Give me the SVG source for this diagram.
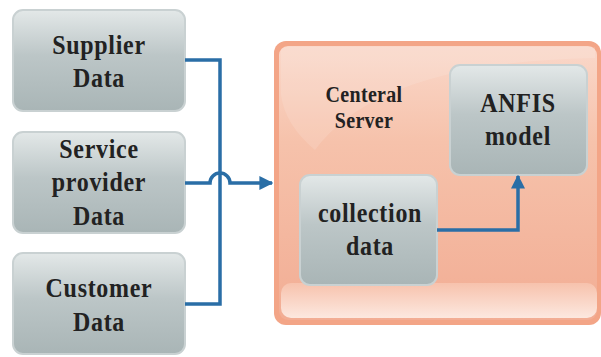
<svg xmlns="http://www.w3.org/2000/svg" width="601" height="357" viewBox="0 0 601 357">
  <defs>
    <linearGradient id="grayFill" x1="0" y1="0" x2="0" y2="1">
      <stop offset="0" stop-color="#e3e8e8"/>
      <stop offset="0.45" stop-color="#bcc6c7"/>
      <stop offset="1" stop-color="#a9b5b6"/>
    </linearGradient>
    <linearGradient id="serverFill" x1="0" y1="0" x2="0" y2="1">
      <stop offset="0" stop-color="#fad8ca"/>
      <stop offset="0.35" stop-color="#f6c2ab"/>
      <stop offset="1" stop-color="#f2ad94"/>
    </linearGradient>
    <linearGradient id="bandFill" x1="0" y1="0" x2="0" y2="1">
      <stop offset="0" stop-color="#f7c3ae"/>
      <stop offset="1" stop-color="#fdebe3"/>
    </linearGradient>
    <marker id="arrow" viewBox="0 0 10 10" refX="9" refY="5" markerWidth="4" markerHeight="4.2" orient="auto" markerUnits="strokeWidth">
      <path d="M0,0 L10,5 L0,10 z" fill="#2a6ea6"/>
    </marker>
  </defs>
  <style>
    .box { fill: url(#grayFill); stroke: #c9d1d2; stroke-width: 2; }
    .label { font-family: "Liberation Serif", "Times New Roman", serif; font-weight: bold; fill: #222222; text-anchor: middle; }
    .big { font-size: 24px; letter-spacing: 0.7px; }
    .small { font-size: 20px; letter-spacing: 0.3px; }
    .wire { fill: none; stroke: #2a6ea6; stroke-width: 3.5; }
  </style>

  <rect width="601" height="357" fill="#ffffff"/>

  <!-- central server container -->
  <g id="central-server">
    <rect x="274" y="41" width="327" height="284" rx="12" fill="#f3a587"/>
    <rect x="279" y="46" width="318" height="274" rx="9" fill="url(#serverFill)"/>
    <!-- soft gloss at the upper left -->
    <path d="M281,50 Q281,47 290,47 H595 V58 Q380,62 315,150 Q285,125 281,95 Z" fill="#ffffff" opacity="0.12"/>
    <rect x="281" y="283" width="316" height="35" rx="10" fill="url(#bandFill)" opacity="0.95"/>
    <text class="label small" transform="translate(364,102) scale(1,1.12)">Centeral</text>
    <text class="label small" transform="translate(364,128) scale(1,1.12)">Server</text>
  </g>

  <g id="supplier-data">
    <rect class="box" x="13" y="10" width="172" height="101" rx="10"/>
    <text class="label big" transform="translate(99,54) scale(1,1.18)">Supplier</text>
    <text class="label big" transform="translate(99,87) scale(1,1.18)">Data</text>
  </g>

  <g id="service-provider-data">
    <rect class="box" x="13" y="132" width="172" height="101" rx="10"/>
    <text class="label big" transform="translate(99,158) scale(1,1.18)">Service</text>
    <text class="label big" transform="translate(99,191) scale(1,1.18)">provider</text>
    <text class="label big" transform="translate(99,225) scale(1,1.18)">Data</text>
  </g>

  <g id="customer-data">
    <rect class="box" x="13" y="253" width="172" height="101" rx="10"/>
    <text class="label big" transform="translate(99,297) scale(1,1.18)">Customer</text>
    <text class="label big" transform="translate(99,331) scale(1,1.18)">Data</text>
  </g>

  <g id="anfis-model">
    <rect class="box" x="450" y="65" width="137" height="110" rx="10"/>
    <text class="label big" transform="translate(518,112) scale(1,1.18)">ANFIS</text>
    <text class="label big" transform="translate(518,145) scale(1,1.18)">model</text>
  </g>

  <g id="collection-data">
    <rect class="box" x="300" y="175" width="137" height="110" rx="10"/>
    <text class="label big" transform="translate(370,222) scale(1,1.18)">collection</text>
    <text class="label big" transform="translate(370,255) scale(1,1.18)">data</text>
  </g>

  <g id="connectors">
    <path class="wire" d="M185,60 H220 V304 H185"/>
    <path class="wire" d="M185,183 H210 A10,10 0 0 1 230,183 H272" marker-end="url(#arrow)"/>
    <path class="wire" d="M437,230 H518 V176" marker-end="url(#arrow)"/>
  </g>
</svg>
